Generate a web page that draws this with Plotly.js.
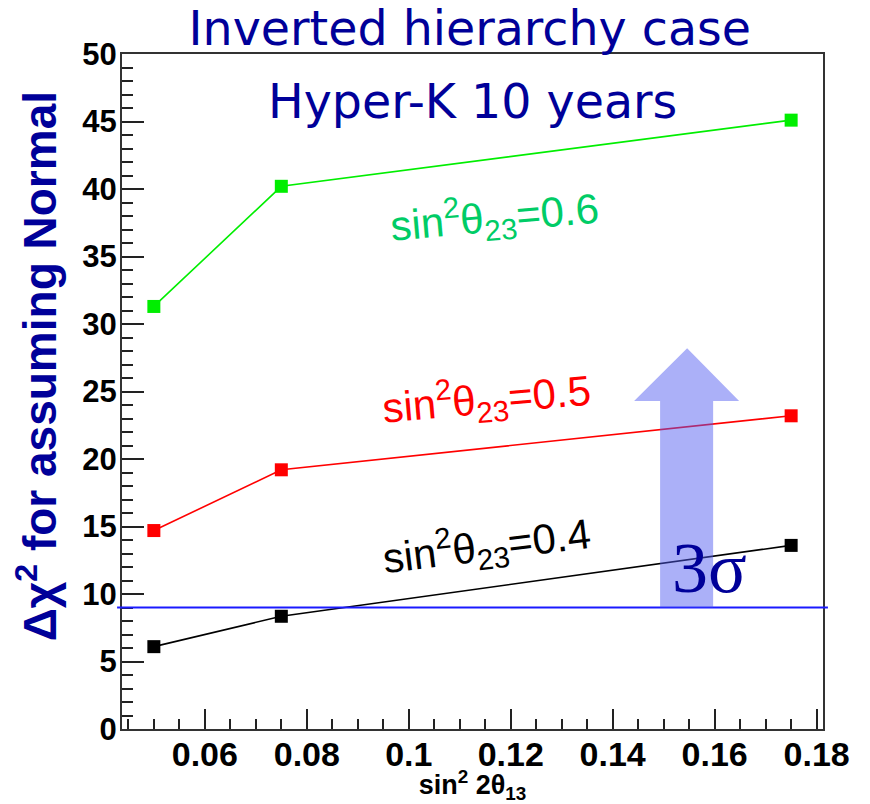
<!DOCTYPE html>
<html>
<head>
<meta charset="utf-8">
<script src="https://cdn.plot.ly/plotly-3.0.1.min.js"></script>
<style>html,body{margin:0;padding:0;background:#fff;}#chart{width:870px;height:804px;}</style>
</head>
<body>
<div id="chart"></div>
<script>
// ---- data ----
const sin2_2theta13 = [0.05, 0.075, 0.175];
const dchi2_s23_04 = [6.1, 8.35, 13.6];
const dchi2_s23_05 = [14.7, 19.2, 23.2];
const dchi2_s23_06 = [31.3, 40.2, 45.1];
const seriesNames = ['sin²θ₂₃=0.4', 'sin²θ₂₃=0.5', 'sin²θ₂₃=0.6'];
const threeSigma = 9;
const xTickVals = [0.06, 0.08, 0.1, 0.12, 0.14, 0.16, 0.18];
const yTickVals = [0, 5, 10, 15, 20, 25, 30, 35, 40, 45, 50];

const SANS = 'Liberation Sans, Arial, sans-serif';
const NAVY = '#000099';

function series(y, color, name) {
  return {
    x: sin2_2theta13, y: y, name: name, type: 'scatter', mode: 'lines+markers',
    line: {color: color, width: 1.6},
    marker: {symbol: 'square', size: 13, color: color},
    showlegend: false, hoverinfo: 'x+y'
  };
}

const traces = [
  series(dchi2_s23_04, '#000000', seriesNames[0]),
  series(dchi2_s23_05, '#ff0000', seriesNames[1]),
  series(dchi2_s23_06, '#00ee00', seriesNames[2])
];

// arrow decoration (data coordinates)
const arrowPath = 'M 0.1493,9 L 0.1597,9 L 0.1597,24.3 L 0.1648,24.3 L 0.1546,28.2 L 0.1442,24.3 L 0.1493,24.3 Z';

const layout = {
  width: 870, height: 804,
  margin: {l: 122, r: 47, t: 54, b: 75},
  paper_bgcolor: '#ffffff', plot_bgcolor: '#ffffff',
  title: {
    text: 'Inverted hierarchy case',
    font: {family: 'DejaVu Sans, Verdana, sans-serif', size: 47.5, color: NAVY},
    xref: 'container', yref: 'container', x: 0.54, y: 0.965,
    xanchor: 'center', yanchor: 'middle'
  },
  xaxis: {
    range: [0.04375, 0.18125],
    tickmode: 'array', tickvals: xTickVals,
    ticks: 'inside', ticklen: 20, tickwidth: 2, tickcolor: '#222',
    minor: {dtick: 0.005, tick0: 0, ticks: 'inside', ticklen: 10, tickwidth: 2, tickcolor: '#222'},
    showline: true, mirror: true, linecolor: '#333', linewidth: 2,
    showgrid: false, zeroline: false,
    tickfont: {family: SANS, size: 34, color: '#000', weight: 'bold'},
    ticklabelstandoff: -6,
    title: {
      text: 'sin<sup>2</sup> 2θ<sub>13</sub>',
      font: {family: SANS, size: 27, color: '#000', weight: 'bold'},
      standoff: 4
    }
  },
  yaxis: {
    range: [0, 50],
    tickmode: 'array', tickvals: yTickVals,
    ticks: 'inside', ticklen: 22, tickwidth: 2, tickcolor: '#222',
    minor: {dtick: 1, tick0: 0, ticks: 'inside', ticklen: 11, tickwidth: 2, tickcolor: '#222'},
    showline: true, mirror: true, linecolor: '#333', linewidth: 2,
    showgrid: false, zeroline: false,
    tickfont: {family: SANS, size: 31, color: '#000', weight: 'bold'},
    ticklabelstandoff: -3
  },
  shapes: [
    {type: 'line', xref: 'paper', yref: 'y', x0: -0.007, x1: 1.007, y0: threeSigma, y1: threeSigma,
     line: {color: '#1a1aff', width: 2}, layer: 'above'},
    {type: 'path', xref: 'x', yref: 'y', path: arrowPath,
     fillcolor: 'rgba(80,90,240,0.48)', line: {width: 0}, layer: 'above'}
  ],
  annotations: [
    {text: 'Hyper-K 10 years', xref: 'paper', yref: 'paper', x: 0.5007, y: 0.930,
     xanchor: 'center', yanchor: 'middle', showarrow: false,
     font: {family: 'DejaVu Sans, Verdana, sans-serif', size: 47.5, color: NAVY}},
    {text: 'Δχ<sup>2</sup> for assuming Normal', xref: 'paper', yref: 'paper', x: -0.122, y: 0.538,
     xanchor: 'center', yanchor: 'middle', textangle: -90, showarrow: false,
     font: {family: SANS, size: 46, color: NAVY, weight: 'bold'}},
    {text: 'sin<sup>2</sup>θ<sub>23</sub>=0.6', xref: 'x', yref: 'y', x: 0.1169, y: 38.0,
     xanchor: 'center', yanchor: 'middle', textangle: -5, showarrow: false,
     font: {family: SANS, size: 42, color: '#00cc66'}},
    {text: 'sin<sup>2</sup>θ<sub>23</sub>=0.5', xref: 'x', yref: 'y', x: 0.1152, y: 24.5,
     xanchor: 'center', yanchor: 'middle', textangle: -5, showarrow: false,
     font: {family: SANS, size: 42, color: '#ff0000'}},
    {text: 'sin<sup>2</sup>θ<sub>23</sub>=0.4', xref: 'x', yref: 'y', x: 0.1152, y: 13.6,
     xanchor: 'center', yanchor: 'middle', textangle: -7, showarrow: false,
     font: {family: SANS, size: 42, color: '#000000'}},
    {text: '3σ', xref: 'x', yref: 'y', x: 0.1590, y: 11.9,
     xanchor: 'center', yanchor: 'middle', showarrow: false,
     font: {family: 'Liberation Serif, Times New Roman, serif', size: 72, color: NAVY}}
  ]
};

Plotly.newPlot('chart', traces, layout, {displayModeBar: false, staticPlot: true});
</script>
</body>
</html>
